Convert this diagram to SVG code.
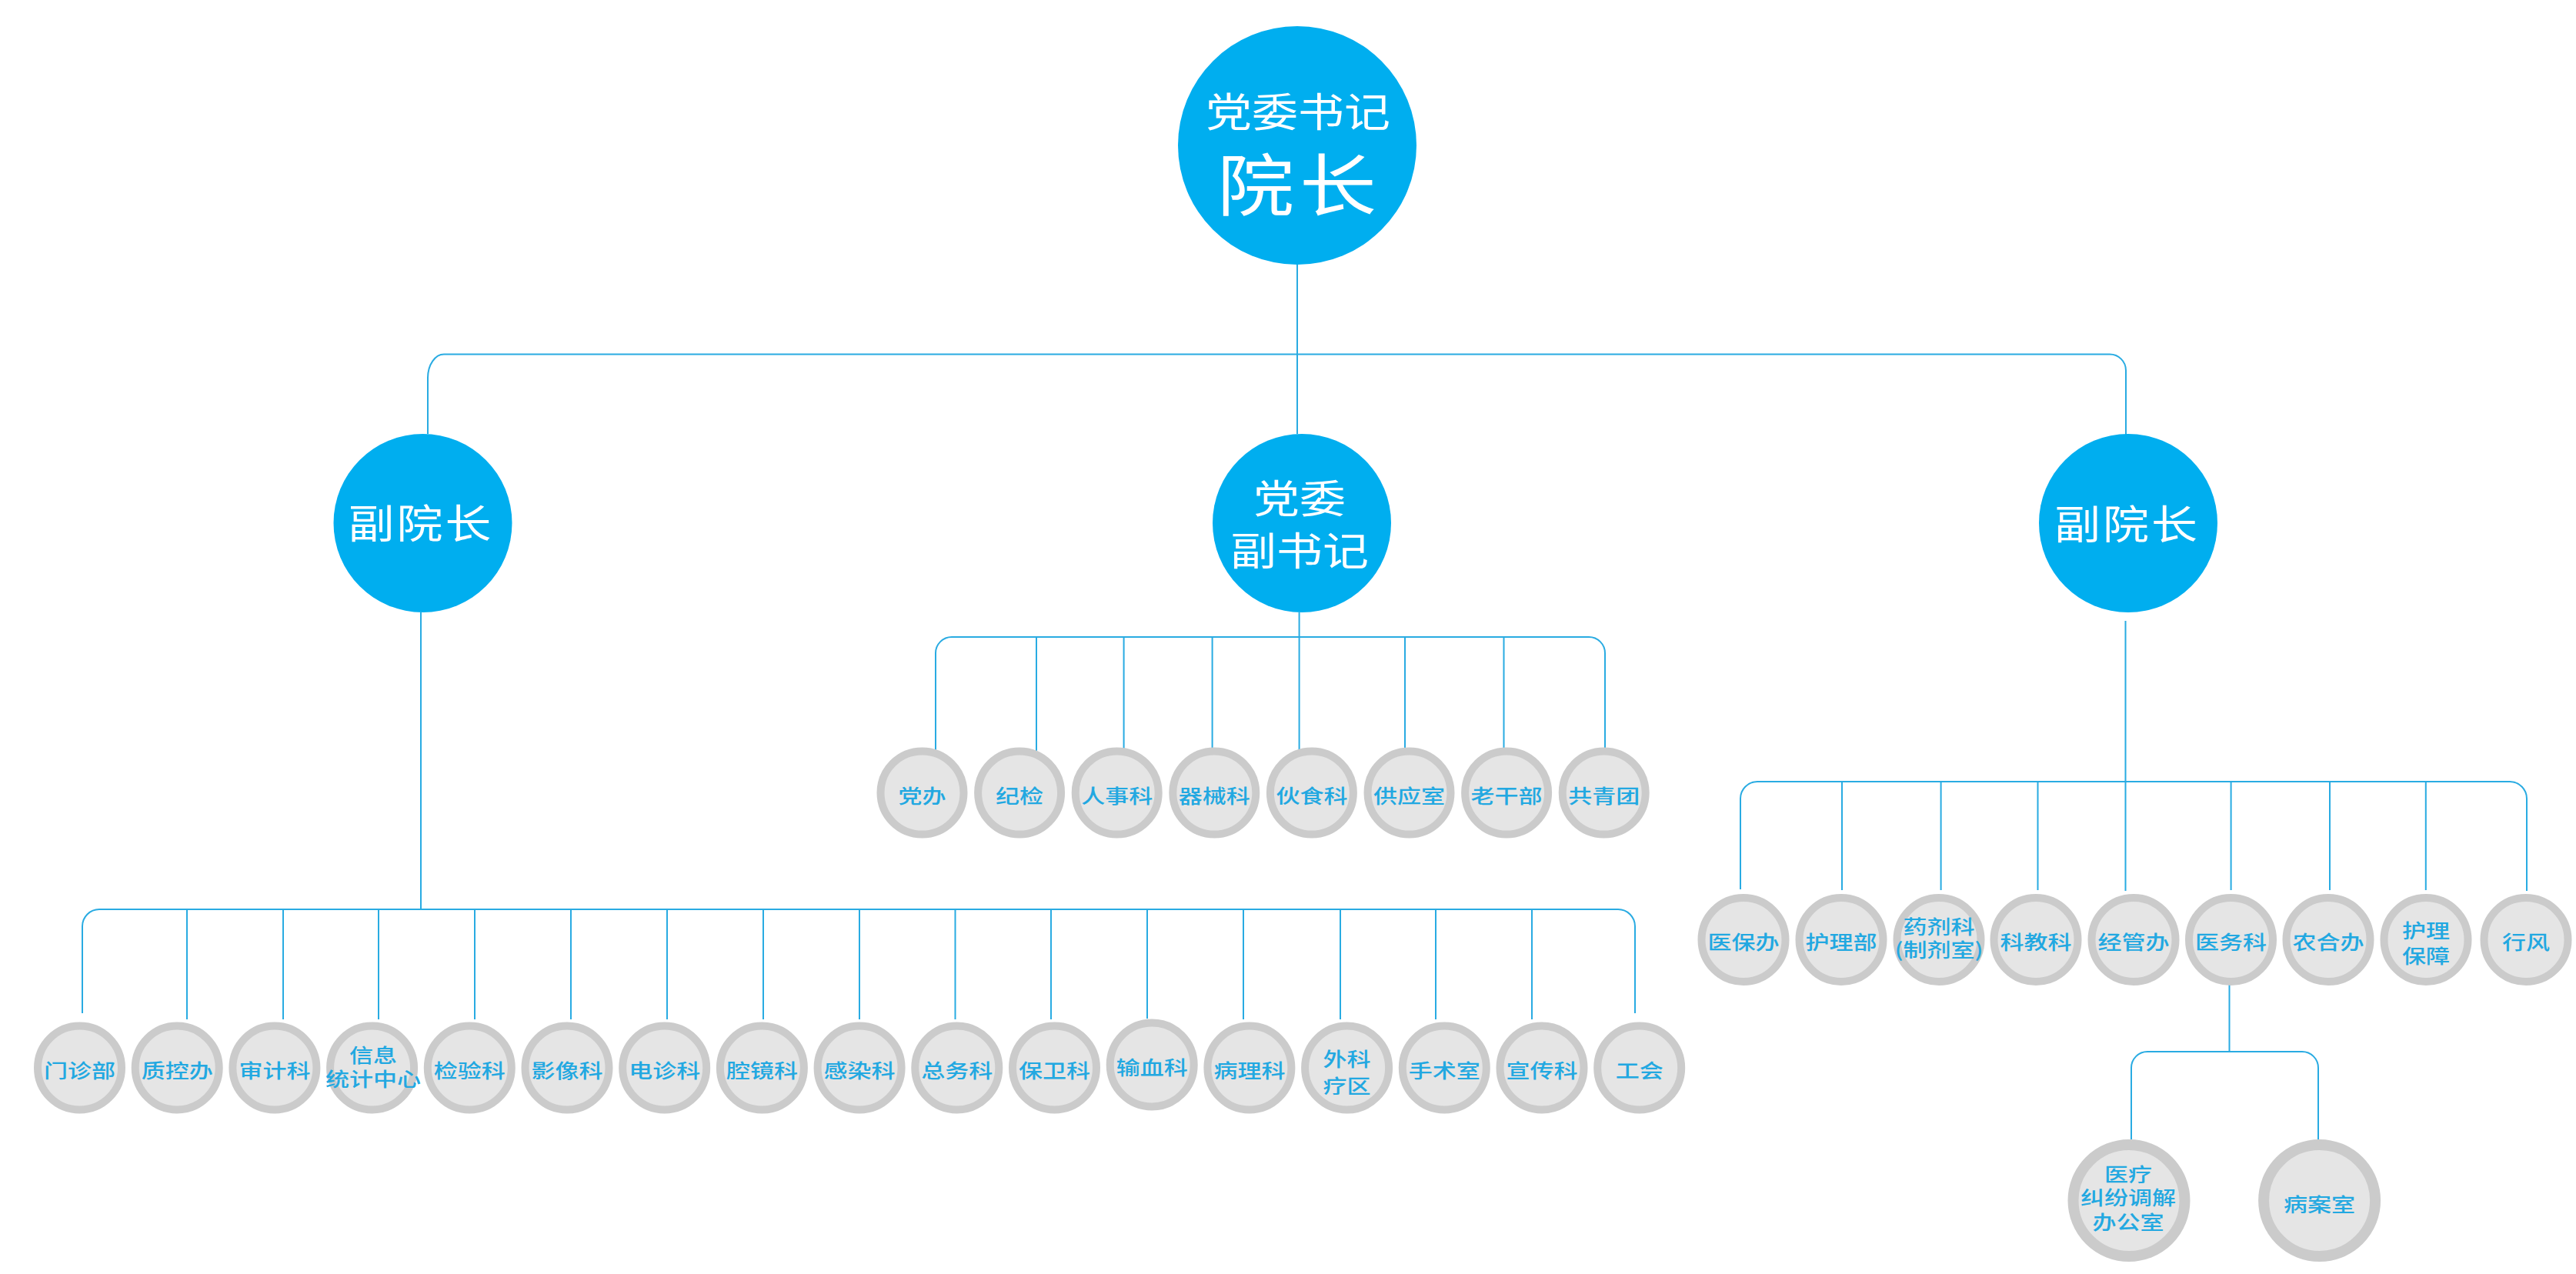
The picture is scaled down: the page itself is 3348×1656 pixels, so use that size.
<svg xmlns="http://www.w3.org/2000/svg" width="3348" height="1656" viewBox="0 0 3348 1656">
<style>
.c{fill:none;stroke:#29abe2;stroke-width:2}
.vp{fill:#00aeef}
.wt{fill:#ffffff;font-family:"Noto Sans CJK SC","Noto Sans",sans-serif;font-weight:normal;text-anchor:middle;dominant-baseline:central}
.lf{fill:#e5e5e5;stroke:#cbcbcb;stroke-width:10}
.lf2{fill:#e5e5e5;stroke:#cbcbcb;stroke-width:14}
.lt{fill:#22a8e1;font-family:"Noto Sans CJK SC","Noto Sans",sans-serif;font-weight:500;font-size:31px;text-anchor:middle;dominant-baseline:central}
</style>
<rect width="3348" height="1656" fill="#ffffff"/>
<g id="connectors">
<path class="c" d="M1686,344 V564"/>
<path class="c" d="M556,564 V491 A21,31 0 0 1 577,460.5 H2742 A21,21 0 0 1 2763,481.5 V565"/>
<path class="c" d="M547,796 V1182"/>
<path class="c" d="M107,1317 V1204 A22,22 0 0 1 129,1182 H2103 A22,22 0 0 1 2125,1204 V1317"/>
<path class="c" d="M243,1182V1325 M368,1182V1325 M492,1182V1325 M617,1182V1325 M742,1182V1325 M867,1182V1325 M992,1182V1325 M1117,1182V1325 M1241.5,1182V1325 M1366,1182V1325 M1491,1182V1324 M1616,1182V1325 M1742,1182V1325 M1866,1182V1325 M1991,1182V1325"/>
<path class="c" d="M1688.6,796 V1069"/>
<path class="c" d="M1216,1069 V849 A21,21 0 0 1 1237,828 H2065 A21,21 0 0 1 2086,849 V1069"/>
<path class="c" d="M1347,828V1069 M1460.6,828V1069 M1575.6,828V1069 M1826,828V1069 M1954.5,828V1069"/>
<path class="c" d="M2762.5,807 V1158"/>
<path class="c" d="M2262,1156 V1038 A22,22 0 0 1 2284,1016 H3262 A22,22 0 0 1 3284,1038 V1158"/>
<path class="c" d="M2394,1016V1157 M2522.6,1016V1157 M2648.5,1016V1157 M2899.6,1016V1157 M3028,1016V1157 M3152.8,1016V1157"/>
<path class="c" d="M2897.5,1280 V1367"/>
<path class="c" d="M2770,1481 V1388 A21,21 0 0 1 2791,1367 H2992 A21,21 0 0 1 3013,1388 V1481"/>
</g>
<g id="n-root">
<circle class="vp" cx="1686" cy="189" r="155"/>
<g transform="translate(1686,189) scale(1,0.88)">
<text class="wt" x="1" y="-53.4" font-size="60">党委书记</text>
<text class="wt" x="-54 53" y="52.3" font-size="100">院长</text>
</g>
</g>
<g id="n-vp-left">
<circle class="vp" cx="549.5" cy="680" r="116"/>
<text class="wt" transform="translate(547,677) scale(1,0.88)" font-size="60" letter-spacing="3">副院长</text>
</g>
<g id="n-party-deputy">
<circle class="vp" cx="1692" cy="680" r="116"/>
<g transform="translate(1689,679) scale(1,0.85)">
<text class="wt" y="-40" font-size="60">党委</text>
<text class="wt" y="39" font-size="60">副书记</text>
</g>
</g>
<g id="n-vp-right">
<circle class="vp" cx="2766" cy="680" r="116"/>
<text class="wt" transform="translate(2764.5,678) scale(1,0.88)" font-size="60" letter-spacing="3">副院长</text>
</g>
<g id="n-menzhen"><circle class="lf" cx="103.5" cy="1388" r="54.5"/><text class="lt" transform="translate(103.5,1388) scale(1,0.82)" y="2.4">门诊部</text></g>
<g id="n-zhikong"><circle class="lf" cx="230.2" cy="1388" r="54.5"/><text class="lt" transform="translate(230.2,1388) scale(1,0.82)" y="2.4">质控办</text></g>
<g id="n-shenji"><circle class="lf" cx="356.9" cy="1388" r="54.5"/><text class="lt" transform="translate(356.9,1388) scale(1,0.82)" y="2.4">审计科</text></g>
<g id="n-xinxi"><circle class="lf" cx="483.6" cy="1388" r="54.5"/><g transform="translate(485,1388) scale(1,0.82)"><text class="lt" y="-22" font-size="28">信息</text><text class="lt" y="16" font-size="28">统计中心</text></g></g>
<g id="n-jianyan"><circle class="lf" cx="610.3" cy="1388" r="54.5"/><text class="lt" transform="translate(610.3,1388) scale(1,0.82)" y="2.4">检验科</text></g>
<g id="n-yingxiang"><circle class="lf" cx="737" cy="1388" r="54.5"/><text class="lt" transform="translate(737,1388) scale(1,0.82)" y="2.4">影像科</text></g>
<g id="n-dianzhen"><circle class="lf" cx="863.7" cy="1388" r="54.5"/><text class="lt" transform="translate(863.7,1388) scale(1,0.82)" y="2.4">电诊科</text></g>
<g id="n-qiangjing"><circle class="lf" cx="990.4" cy="1388" r="54.5"/><text class="lt" transform="translate(990.4,1388) scale(1,0.82)" y="2.4">腔镜科</text></g>
<g id="n-ganran"><circle class="lf" cx="1117.1" cy="1388" r="54.5"/><text class="lt" transform="translate(1117.1,1388) scale(1,0.82)" y="2.4">感染科</text></g>
<g id="n-zongwu"><circle class="lf" cx="1243.8" cy="1388" r="54.5"/><text class="lt" transform="translate(1243.8,1388) scale(1,0.82)" y="2.4">总务科</text></g>
<g id="n-baowei"><circle class="lf" cx="1370.5" cy="1388" r="54.5"/><text class="lt" transform="translate(1370.5,1388) scale(1,0.82)" y="2.4">保卫科</text></g>
<g id="n-shuxue"><circle class="lf" cx="1497.2" cy="1384" r="54.5"/><text class="lt" transform="translate(1497.2,1384) scale(1,0.82)" y="2.4">输血科</text></g>
<g id="n-bingli"><circle class="lf" cx="1623.9" cy="1388" r="54.5"/><text class="lt" transform="translate(1623.9,1388) scale(1,0.82)" y="2.4">病理科</text></g>
<g id="n-waike"><circle class="lf" cx="1750.6" cy="1388" r="54.5"/><g transform="translate(1750.6,1388) scale(1,0.82)"><text class="lt" y="-16">外科</text><text class="lt" y="27">疗区</text></g></g>
<g id="n-shoushu"><circle class="lf" cx="1877.3" cy="1388" r="54.5"/><text class="lt" transform="translate(1877.3,1388) scale(1,0.82)" y="2.4">手术室</text></g>
<g id="n-xuanchuan"><circle class="lf" cx="2004" cy="1388" r="54.5"/><text class="lt" transform="translate(2004,1388) scale(1,0.82)" y="2.4">宣传科</text></g>
<g id="n-gonghui"><circle class="lf" cx="2130.7" cy="1388" r="54.5"/><text class="lt" transform="translate(2130.7,1388) scale(1,0.82)" y="2.4">工会</text></g>
<g id="n-dangban"><circle class="lf" cx="1198.5" cy="1030.5" r="54"/><text class="lt" transform="translate(1198.5,1030.5) scale(1,0.82)" y="2.4">党办</text></g>
<g id="n-jijian"><circle class="lf" cx="1325.1" cy="1030.5" r="54"/><text class="lt" transform="translate(1325.1,1030.5) scale(1,0.82)" y="2.4">纪检</text></g>
<g id="n-renshi"><circle class="lf" cx="1451.7" cy="1030.5" r="54"/><text class="lt" transform="translate(1451.7,1030.5) scale(1,0.82)" y="2.4">人事科</text></g>
<g id="n-qixie"><circle class="lf" cx="1578.3" cy="1030.5" r="54"/><text class="lt" transform="translate(1578.3,1030.5) scale(1,0.82)" y="2.4">器械科</text></g>
<g id="n-huoshi"><circle class="lf" cx="1704.9" cy="1030.5" r="54"/><text class="lt" transform="translate(1704.9,1030.5) scale(1,0.82)" y="2.4">伙食科</text></g>
<g id="n-gongying"><circle class="lf" cx="1831.5" cy="1030.5" r="54"/><text class="lt" transform="translate(1831.5,1030.5) scale(1,0.82)" y="2.4">供应室</text></g>
<g id="n-laogan"><circle class="lf" cx="1958.1" cy="1030.5" r="54"/><text class="lt" transform="translate(1958.1,1030.5) scale(1,0.82)" y="2.4">老干部</text></g>
<g id="n-gongqing"><circle class="lf" cx="2084.7" cy="1030.5" r="54"/><text class="lt" transform="translate(2084.7,1030.5) scale(1,0.82)" y="2.4">共青团</text></g>
<g id="n-yibao"><circle class="lf" cx="2266" cy="1221.5" r="54.5"/><text class="lt" transform="translate(2266,1221.5) scale(1,0.82)" y="1.8">医保办</text></g>
<g id="n-huli"><circle class="lf" cx="2393" cy="1221.5" r="54.5"/><text class="lt" transform="translate(2393,1221.5) scale(1,0.82)" y="1.8">护理部</text></g>
<g id="n-yaoji"><circle class="lf" cx="2520" cy="1221.5" r="54.5"/><g transform="translate(2520,1221.5) scale(1,0.82)"><text class="lt" y="-23" font-size="27">药剂科</text><text class="lt" y="14" font-size="27">(制剂室)</text></g></g>
<g id="n-kejiao"><circle class="lf" cx="2646" cy="1221.5" r="54.5"/><text class="lt" transform="translate(2646,1221.5) scale(1,0.82)" y="1.8">科教科</text></g>
<g id="n-jingguan"><circle class="lf" cx="2773" cy="1221.5" r="54.5"/><text class="lt" transform="translate(2773,1221.5) scale(1,0.82)" y="1.8">经管办</text></g>
<g id="n-yiwu"><circle class="lf" cx="2899.5" cy="1221.5" r="54.5"/><text class="lt" transform="translate(2899.5,1221.5) scale(1,0.82)" y="1.8">医务科</text></g>
<g id="n-nonghe"><circle class="lf" cx="3026" cy="1221.5" r="54.5"/><text class="lt" transform="translate(3026,1221.5) scale(1,0.82)" y="1.8">农合办</text></g>
<g id="n-hulibaozhang"><circle class="lf" cx="3153" cy="1221.5" r="54.5"/><g transform="translate(3153,1221.5) scale(1,0.82)"><text class="lt" y="-16.5">护理</text><text class="lt" y="24">保障</text></g></g>
<g id="n-xingfeng"><circle class="lf" cx="3283" cy="1221.5" r="54.5"/><text class="lt" transform="translate(3283,1221.5) scale(1,0.82)" y="1.8">行风</text></g>
<g id="n-jiufen"><circle class="lf2" cx="2767" cy="1560.5" r="72.5"/><g transform="translate(2766,1560.5) scale(1,0.82)"><text class="lt" y="-43.5" font-size="30">医疗</text><text class="lt" y="-6.5" font-size="30">纠纷调解</text><text class="lt" y="32.5" font-size="30">办公室</text></g></g>
<g id="n-bingan"><circle class="lf2" cx="3014.6" cy="1560.5" r="72.5"/><text class="lt" transform="translate(3014.6,1560.5) scale(1,0.82)" y="4.3" font-size="32">病案室</text></g>
</svg>
